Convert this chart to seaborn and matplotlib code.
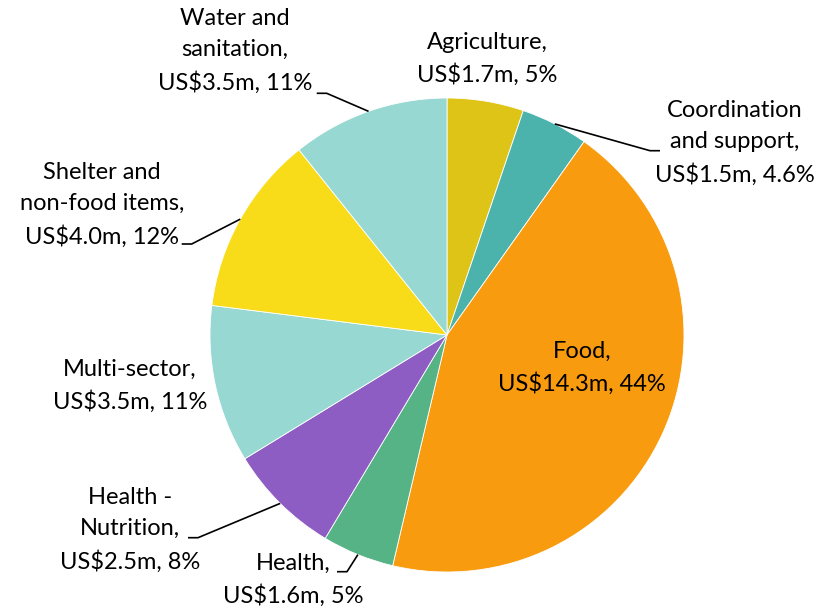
import matplotlib
matplotlib.use("Agg")
import matplotlib.pyplot as plt
import seaborn as sns
import numpy as np

# ---- data ----
categories = ["Agriculture", "Coordination and support", "Food", "Health",
              "Health - Nutrition", "Multi-sector", "Shelter and non-food items",
              "Water and sanitation"]
values_musd = [1.7, 1.5, 14.3, 1.6, 2.5, 3.5, 4.0, 3.5]
pct_labels = ["5%", "4.6%", "44%", "5%", "8%", "11%", "12%", "11%"]
label_names = ["Agriculture,", "Coordination\nand support,", "Food,", "Health,",
               "Health -\nNutrition,", "Multi-sector,", "Shelter and\nnon-food items,",
               "Water and\nsanitation,"]
colors_hex = ["#DEC417", "#4BB3AC", "#F99B0E", "#56B386",
              "#8E5DC4", "#97D8D2", "#F8DB19", "#97D8D2"]

sns.set_theme(style="white")
plt.rcParams['font.family'] = ['Lato', 'DejaVu Sans']

W, H = 836, 611
fig = plt.figure(figsize=(W / 100, H / 100), dpi=100)
ax = fig.add_axes([0, 0, 1, 1])

palette = sns.color_palette(colors_hex)
cx, cy, R = 447, H - 335, 237
wedges, _ = ax.pie(values_musd, colors=palette, startangle=90, counterclock=False,
                   center=(cx, cy), radius=R,
                   wedgeprops=dict(edgecolor="white", linewidth=0.6))
ax.set_xlim(0, W)
ax.set_ylim(0, H)
ax.set_aspect("equal")
ax.axis("off")

def py(y):
    return H - y

# label layout: (center x, center y in px from top)
label_pos = {
    0: (487, 59),
    1: (735, 143),
    2: (582, 368),
    3: (293, 580),
    4: (130, 530),
    5: (130, 386),
    6: (102, 205),
    7: (235, 51),
}
# leader elbows: list of points (px from top) leading from text to wedge edge
leaders = {
    1: [(660, 150.7), (650, 150.7)],
    3: [(337, 571.7), (347, 571.7)],
    4: [(188, 537.7), (198, 537.7)],
    6: [(181.7, 244), (191.7, 244)],
    7: [(316.7, 93.3), (326.7, 93.3)],
}

for i, w in enumerate(wedges):
    txt = f"{label_names[i]}\nUS${values_musd[i]:.1f}m, {pct_labels[i]}"
    x, y = label_pos[i]
    ax.text(x, py(y), txt, ha="center", va="center", multialignment="center",
            fontsize=17, color="black", linespacing=1.58)
    if i in leaders:
        mid = np.deg2rad((w.theta1 + w.theta2) / 2)
        ex, ey = cx + R * np.cos(mid), cy + R * np.sin(mid)
        pts = leaders[i]
        xs = [p[0] for p in pts] + [ex]
        ys = [py(p[1]) for p in pts] + [ey]
        ax.plot(xs, ys, color="black", linewidth=1.2, solid_capstyle="butt")

fig.savefig("out.png", dpi=100)
